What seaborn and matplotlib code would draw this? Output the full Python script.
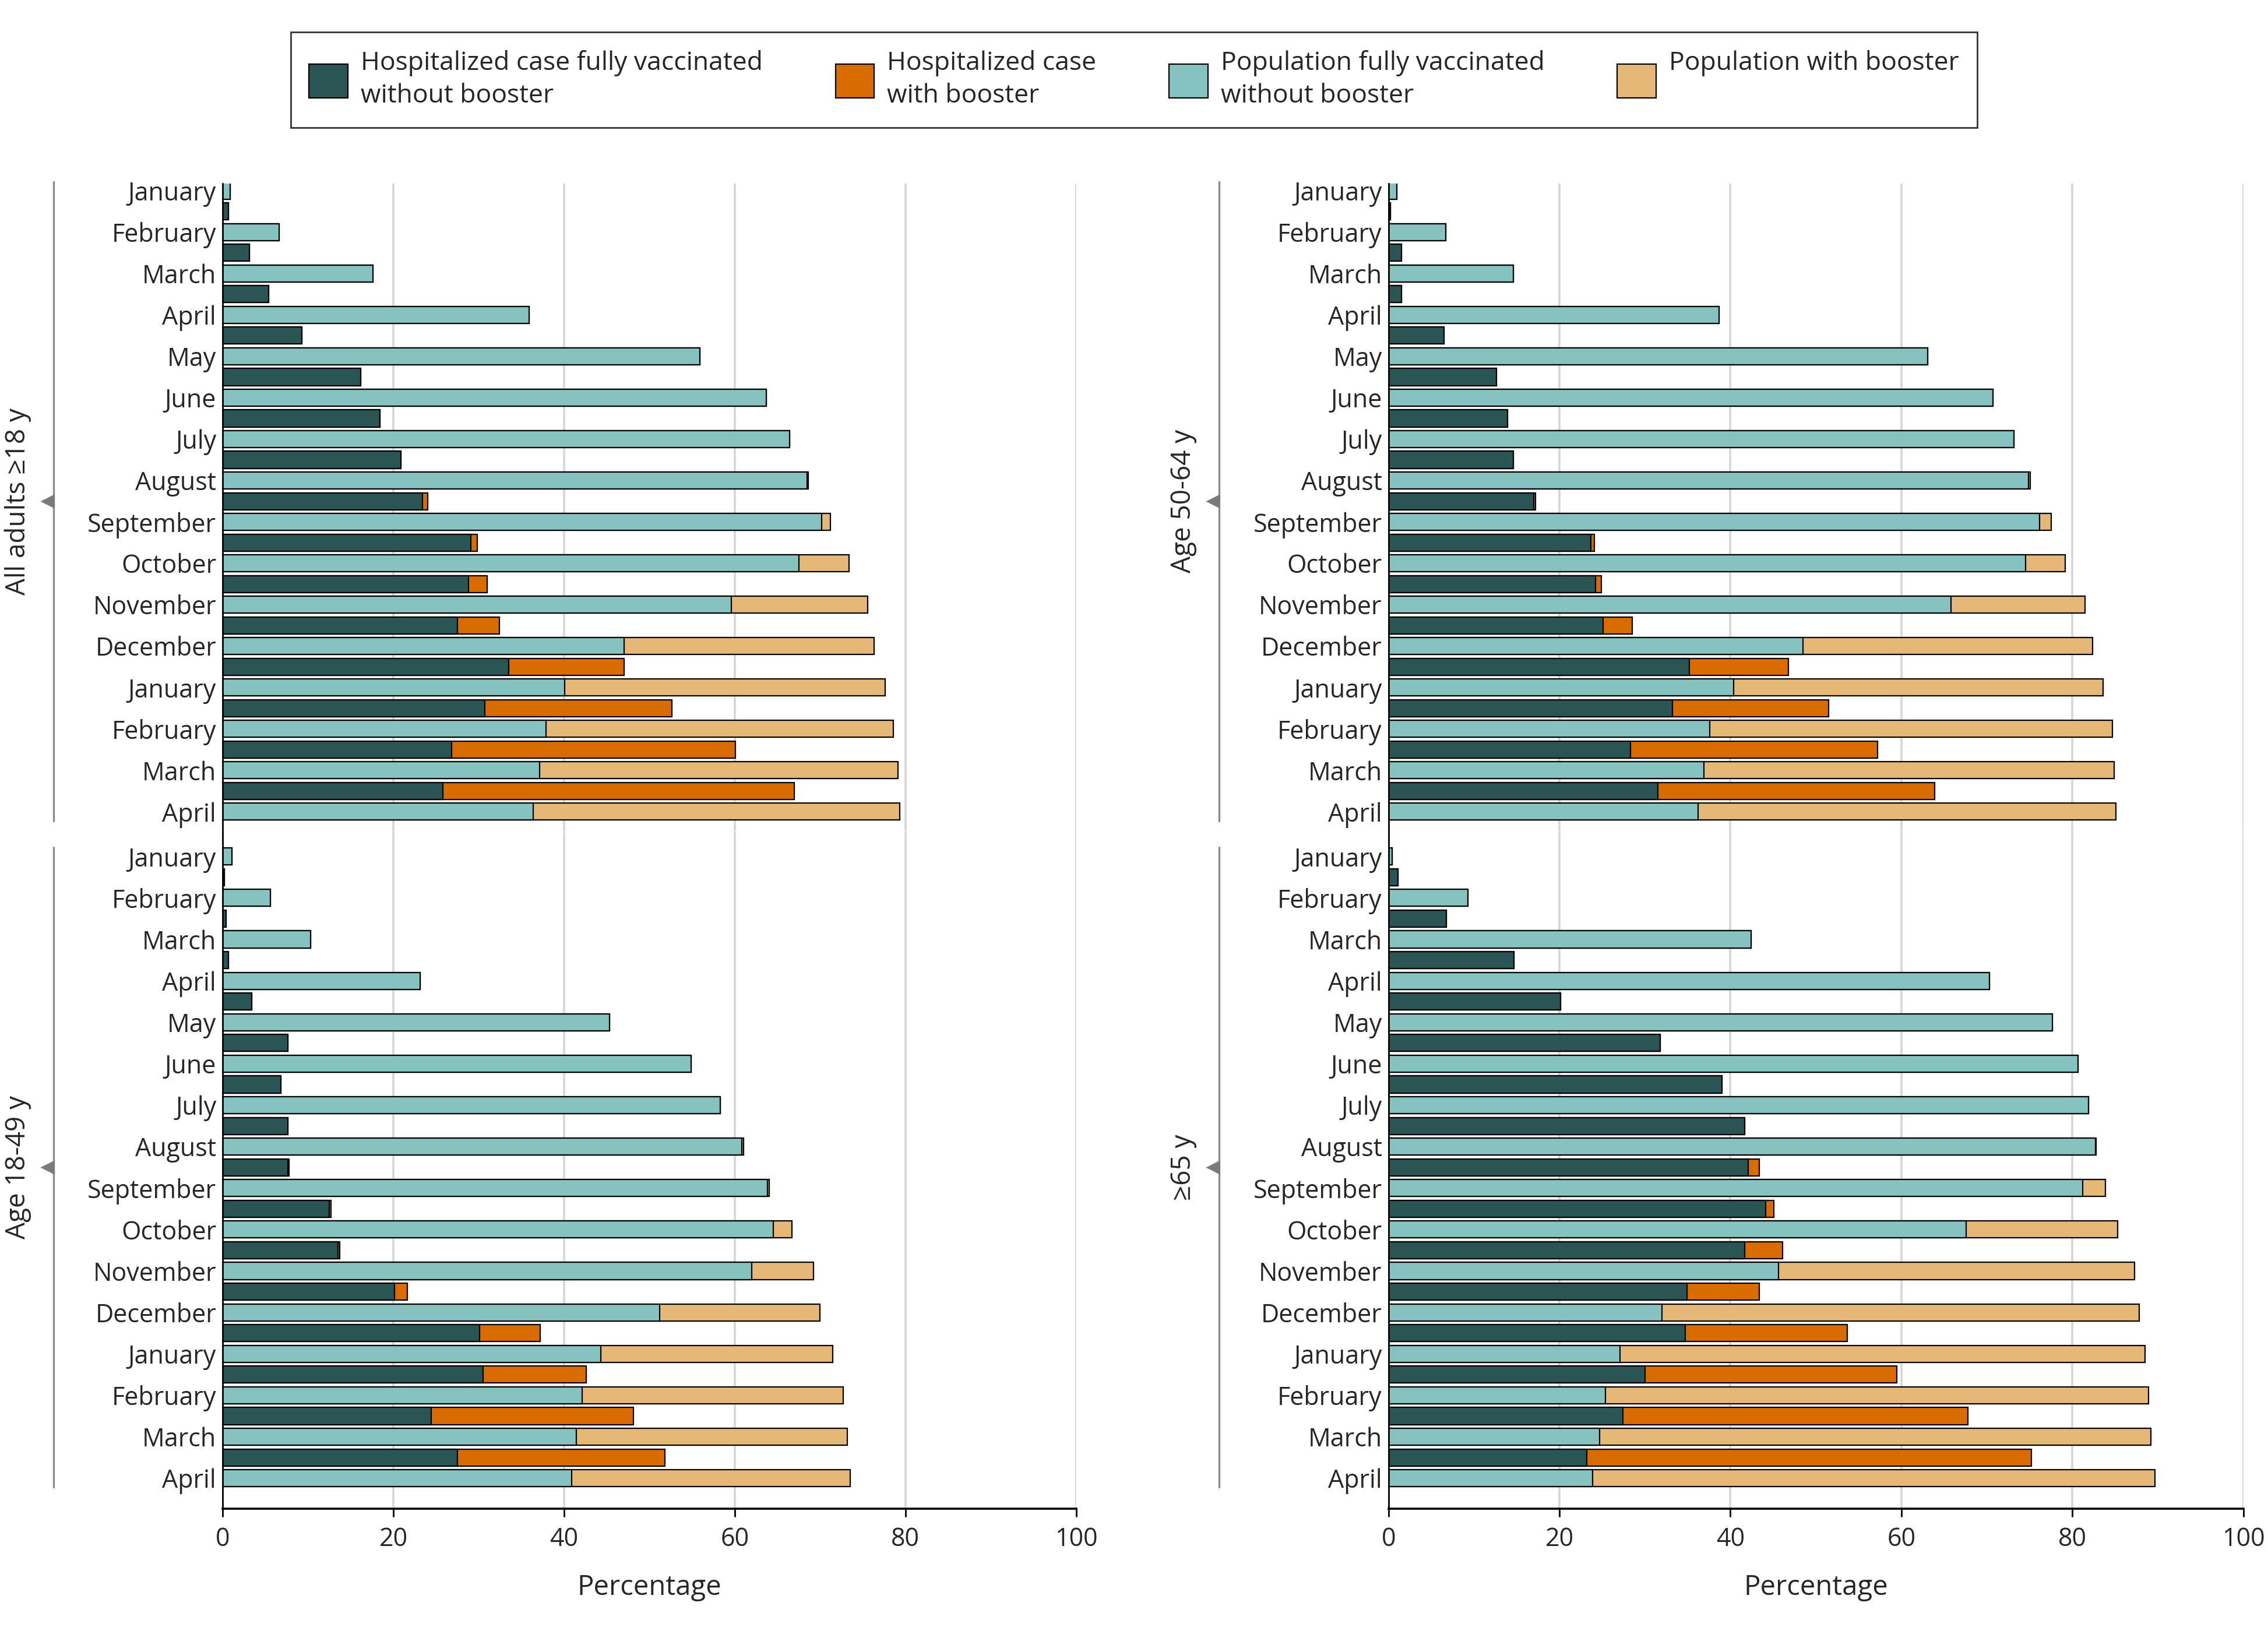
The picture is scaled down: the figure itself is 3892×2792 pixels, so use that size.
# plot.py

import numpy as np
import pandas as pd
import seaborn as sns
import matplotlib.pyplot as plt
import matplotlib.transforms as mtransforms
from matplotlib.patches import Patch

sns.set_style("white")
plt.rcParams['font.family'] = ['Open Sans', 'DejaVu Sans']

# Months from January 2021 to April 2022
months = ['January', 'February', 'March', 'April', 'May', 'June', 'July',
          'August', 'September', 'October', 'November', 'December',
          'January', 'February', 'March', 'April']

# All adults >=18 y
adults_pop_full = [0.9, 6.6, 17.6, 35.9, 55.9, 63.7, 66.4, 68.5, 70.2, 67.5, 59.6, 47.0, 40.1, 37.9, 37.1, 36.4]
adults_pop_boost = [0, 0, 0, 0, 0, 0, 0, 0.1, 1.0, 5.9, 16.0, 29.3, 37.5, 40.7, 42.0, 42.9]
adults_hosp_full = [0, 0.7, 3.1, 5.4, 9.3, 16.2, 18.4, 20.9, 23.4, 29.1, 28.8, 27.5, 33.5, 30.7, 26.8, 25.8]
adults_hosp_boost = [0, 0, 0, 0, 0, 0, 0, 0, 0.6, 0.7, 2.2, 4.9, 13.5, 21.9, 33.3, 41.2]

# Age 18-49 y
a1849_pop_full = [1.1, 5.6, 10.3, 23.1, 45.3, 54.9, 58.3, 60.8, 63.8, 64.5, 62.0, 51.2, 44.3, 42.1, 41.4, 40.9]
a1849_pop_boost = [0, 0, 0, 0, 0, 0, 0, 0.2, 0.2, 2.2, 7.2, 18.8, 27.2, 30.6, 31.8, 32.6]
a1849_hosp_full = [0, 0.2, 0.4, 0.7, 3.4, 7.6, 6.8, 7.6, 7.6, 12.5, 13.5, 20.1, 30.1, 30.5, 24.4, 27.5]
a1849_hosp_boost = [0, 0, 0, 0, 0, 0, 0, 0, 0.2, 0.2, 0.2, 1.5, 7.1, 12.1, 23.7, 24.3]

# Age 50-64 y
a5064_pop_full = [1.0, 6.7, 14.6, 38.7, 63.1, 70.7, 73.2, 74.9, 76.2, 74.5, 65.8, 48.5, 40.4, 37.6, 36.9, 36.2]
a5064_pop_boost = [0, 0, 0, 0, 0, 0, 0, 0.2, 1.3, 4.7, 15.7, 33.9, 43.2, 47.1, 48.0, 48.9]
a5064_hosp_full = [0, 0.2, 1.5, 1.5, 6.5, 12.6, 13.9, 14.6, 17.0, 23.7, 24.2, 25.1, 35.2, 33.2, 28.3, 31.5]
a5064_hosp_boost = [0, 0, 0, 0, 0, 0, 0, 0, 0.2, 0.4, 0.7, 3.4, 11.6, 18.3, 28.9, 32.4]

# >=65 y
a65_pop_full = [0.4, 9.3, 42.4, 70.3, 77.7, 80.7, 81.9, 82.7, 81.2, 67.6, 45.6, 32.0, 27.1, 25.4, 24.7, 23.9]
a65_pop_boost = [0, 0, 0, 0, 0, 0, 0, 0.1, 2.7, 17.7, 41.7, 55.8, 61.4, 63.5, 64.5, 65.8]
a65_hosp_full = [0, 1.1, 6.8, 14.7, 20.1, 31.8, 39.0, 41.7, 42.1, 44.1, 41.7, 34.9, 34.7, 30.0, 27.4, 23.2]
a65_hosp_boost = [0, 0, 0, 0, 0, 0, 0, 0, 1.3, 1.0, 4.4, 8.5, 19.0, 29.5, 40.4, 52.0]

DARK = '#2b5454'
ORANGE = '#d86c00'
TEAL = '#86c3c0'
TAN = '#e6b877'

legend_labels = ['Hospitalized case fully vaccinated\nwithout booster',
                 'Hospitalized case\nwith booster',
                 'Population fully vaccinated\nwithout booster',
                 'Population with booster\n ']

FS = 15.5

fig = plt.figure(figsize=(19.46, 13.96), dpi=200)


def draw_panel(ax, pop_full, pop_boost, hosp_full, hosp_boost, label, bottom_row):
    pos = np.arange(len(months))
    df = pd.DataFrame({
        'pop_pos': pos,
        'hosp_pos': pos - 0.5,
        'pop_full': pop_full,
        'pop_total': np.add(pop_full, pop_boost),
        'hosp_full': hosp_full,
        'hosp_total': np.add(hosp_full, hosp_boost),
    })
    common = dict(orient='h', native_scale=True, width=0.41, errorbar=None,
                  saturation=1, edgecolor='black', linewidth=0.8, ax=ax)
    # stacked bars: draw totals first, then the first segment on top
    sns.barplot(data=df, x='pop_total', y='pop_pos', color=TAN, **common)
    sns.barplot(data=df, x='pop_full', y='pop_pos', color=TEAL, **common)
    sns.barplot(data=df, x='hosp_total', y='hosp_pos', color=ORANGE, **common)
    sns.barplot(data=df, x='hosp_full', y='hosp_pos', color=DARK, **common)

    ax.set_xlim(0, 100)
    if bottom_row:
        ax.set_ylim(15.74, -0.59)
    else:
        ax.set_ylim(15.48, -0.17)
    ax.set_yticks(pos)
    ax.set_yticklabels(months)
    ax.set_xticks([0, 20, 40, 60, 80, 100])
    ax.grid(axis='x', color='#d6d6d6', linewidth=1.3)
    ax.set_axisbelow(True)
    ax.tick_params(axis='y', length=0, pad=4, labelsize=FS)
    ax.set_ylabel('')

    for s in ['top', 'right']:
        ax.spines[s].set_visible(False)
    ax.spines['left'].set_color('black')
    ax.spines['left'].set_linewidth(1.0)
    if bottom_row:
        ax.spines['bottom'].set_color('black')
        ax.spines['bottom'].set_linewidth(1.3)
        ax.tick_params(axis='x', length=5, width=1.0, color='black', pad=6,
                       labelsize=FS, bottom=True)
        ax.set_xlabel('Percentage', fontsize=17, labelpad=13)
    else:
        ax.spines['bottom'].set_visible(False)
        ax.tick_params(axis='x', length=0, labelbottom=False)
        ax.set_xlabel('')

    # side bracket with panel label
    trans = mtransforms.blended_transform_factory(ax.transAxes, ax.transData)
    ax.plot([-0.198, -0.198], [-0.22, 15.22], transform=trans, color='#8c8c8c',
            linewidth=1.2, clip_on=False)
    ax.plot([-0.205], [7.5], marker='<', markersize=7, color='#7a7a7a',
            transform=trans, clip_on=False)
    ax.text(-0.24, 7.5, label, rotation=90, ha='center', va='center',
            transform=trans, fontsize=16.5)


panels = [
    ([0.0982, 0.4889, 0.3763, 0.3982], adults_pop_full, adults_pop_boost, adults_hosp_full, adults_hosp_boost, 'All adults ≥18 y', False),
    ([0.6122, 0.4889, 0.3769, 0.3982], a5064_pop_full, a5064_pop_boost, a5064_hosp_full, a5064_hosp_boost, 'Age 50-64 y', False),
    ([0.0982, 0.0726, 0.3763, 0.4160], a1849_pop_full, a1849_pop_boost, a1849_hosp_full, a1849_hosp_boost, 'Age 18-49 y', True),
    ([0.6122, 0.0726, 0.3769, 0.4160], a65_pop_full, a65_pop_boost, a65_hosp_full, a65_hosp_boost, '≥65 y', True),
]

for rect, pf, pb, hf, hb, label, bottom_row in panels:
    ax = fig.add_axes(rect)
    draw_panel(ax, pf, pb, hf, hb, label, bottom_row)

handles = [Patch(facecolor=c, edgecolor='black', linewidth=0.8)
           for c in [DARK, ORANGE, TEAL, TAN]]
leg = fig.legend(handles, legend_labels, loc='center', bbox_to_anchor=(0.5, 0.951),
                 ncol=4, frameon=True, fancybox=False, edgecolor='black',
                 fontsize=16, handlelength=1.5, handleheight=1.6,
                 columnspacing=2.8, handletextpad=0.5, borderpad=0.7)
leg.get_frame().set_linewidth(1.0)
for t in leg.get_texts():
    t.set_linespacing(1.35)

fig.savefig('out.png', dpi=200)
